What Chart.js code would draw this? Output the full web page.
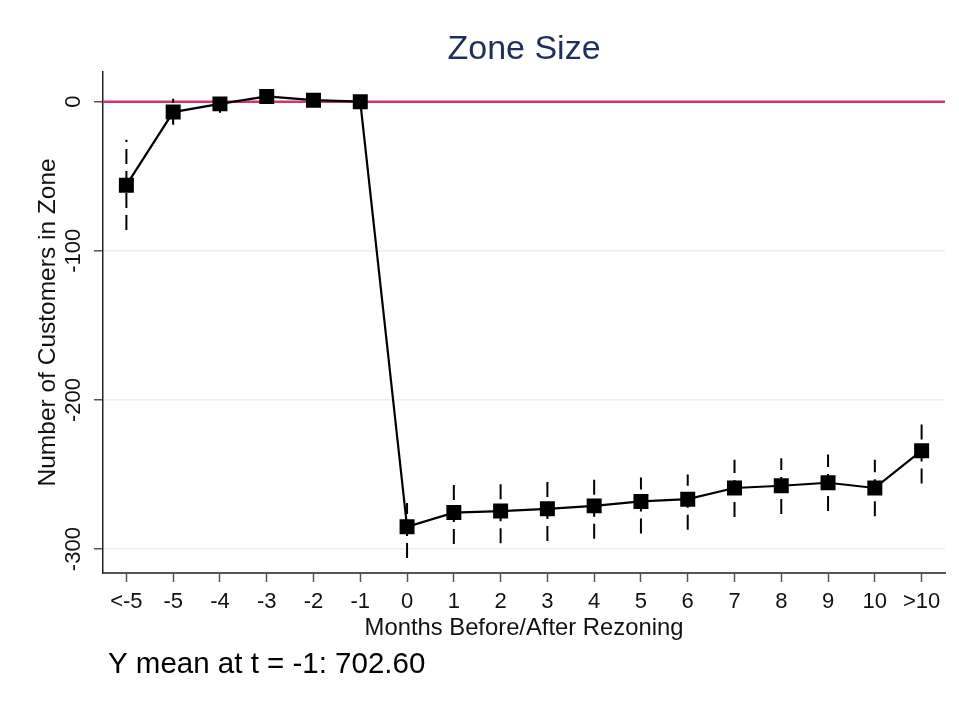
<!DOCTYPE html>
<html>
<head>
<meta charset="utf-8">
<script src="https://cdn.jsdelivr.net/npm/chart.js@4.4.1/dist/chart.umd.min.js"></script>
<style>
  html, body { margin: 0; padding: 0; background: #ffffff; }
  #wrap { width: 959px; height: 702px; position: relative; }
</style>
</head>
<body>
<div id="wrap"><canvas id="c" width="959" height="702"></canvas></div>
<script>
// ---- data ----
const categories = ['<-5','-5','-4','-3','-2','-1','0','1','2','3','4','5','6','7','8','9','10','>10'];
const coef  = [-56, -7, -1.5, 3.5, 1, 0, -285, -275.5, -274.5, -273, -271, -268, -266.5, -259, -257.5, -255.5, -259, -234];
const ciLow = [-86, -15.5, -7.5, 0.5, -2, null, -306, -296.5, -296, -294.5, -293, -289.5, -287, -278.5, -276.5, -274.5, -278, -256];
const ciHigh= [-25.5, 2, 3, 7, 4, null, -269, -253.5, -253, -252, -250, -252, -250, -240, -239, -236.5, -240, -213.5];
const yTicks = [0, -100, -200, -300];
const yTickLabels = ['0', '-100', '-200', '-300'];
const titleText = 'Zone Size';
const xTitle = 'Months Before/After Rezoning';
const yTitle = 'Number of Customers in Zone';
const noteText = 'Y mean at t = -1: 702.60';
const refLine = 0;

const FONT = '"Liberation Sans", Arial, Helvetica, sans-serif';

const refLinePlugin = {
  id: 'refLine',
  beforeDatasetsDraw(chart) {
    const {ctx, chartArea, scales} = chart;
    const y = scales.y.getPixelForValue(refLine);
    ctx.save();
    ctx.strokeStyle = '#d43562';
    ctx.lineWidth = 2.5;
    ctx.beginPath();
    ctx.moveTo(chartArea.left, y);
    ctx.lineTo(chartArea.right, y);
    ctx.stroke();
    ctx.restore();
  }
};

const errorBarPlugin = {
  id: 'errorBars',
  beforeDatasetsDraw(chart) {
    const {ctx, scales} = chart;
    ctx.save();
    ctx.strokeStyle = '#000';
    ctx.lineWidth = 2;
    ctx.setLineDash([15, 7]);
    for (let i = 0; i < categories.length; i++) {
      if (ciLow[i] === null || ciHigh[i] === null) continue;
      const x = scales.x.getPixelForValue(i);
      const y0 = scales.y.getPixelForValue(ciLow[i]);
      const y1 = scales.y.getPixelForValue(ciHigh[i]);
      ctx.beginPath();
      ctx.moveTo(x, y0);
      ctx.lineTo(x, y1);
      ctx.stroke();
    }
    ctx.restore();
  }
};

const notePlugin = {
  id: 'note',
  afterDraw(chart) {
    const {ctx, chartArea} = chart;
    ctx.save();
    ctx.font = '29.5px ' + FONT;
    ctx.fillStyle = '#000';
    ctx.textAlign = 'left';
    ctx.textBaseline = 'alphabetic';
    ctx.fillText(noteText, chartArea.left + 5, chartArea.bottom + 100);
    ctx.restore();
  }
};

new Chart(document.getElementById('c'), {
  type: 'line',
  data: {
    labels: categories,
    datasets: [{
      data: coef,
      borderColor: '#000',
      borderWidth: 2.2,
      pointStyle: 'rect',
      pointRadius: 10.6,
      pointBackgroundColor: '#000',
      pointBorderColor: '#000',
      pointBorderWidth: 0,
      tension: 0,
      fill: false
    }]
  },
  options: {
    responsive: false,
    animation: false,
    devicePixelRatio: 1,
    layout: { padding: { left: 0, right: 14, top: 0, bottom: 59 } },
    plugins: {
      legend: { display: false },
      tooltip: { enabled: false },
      title: {
        display: true,
        text: titleText,
        fullSize: false,
        color: '#1e2f5e',
        font: { family: FONT, size: 34, weight: 'normal', lineHeight: 1.2 },
        padding: { top: 29, bottom: 2 }
      }
    },
    scales: {
      x: {
        type: 'category',
        offset: true,
        grid: { offset: false, drawOnChartArea: false, drawTicks: true, tickLength: 9, tickColor: '#555', tickWidth: 1.5 },
        border: { display: true, color: '#555', width: 2 },
        ticks: { color: '#111', font: { family: FONT, size: 22 }, padding: 7, autoSkip: false, maxRotation: 0, minRotation: 0 },
        title: { display: true, text: xTitle, color: '#111', font: { family: FONT, size: 23.8, lineHeight: 1.2 }, padding: { top: 0, bottom: 0 } },
        afterFit(s) { s.height = 70; }
      },
      y: {
        min: -316,
        max: 20,
        grid: { color: '#e8f0f3', lineWidth: 1.5, drawTicks: true, tickLength: 9, tickColor: '#555', tickWidth: 1.5 },
        border: { display: true, color: '#222', width: 1.5 },
        afterBuildTicks(s) { s.ticks = yTicks.map(v => ({ value: v })); },
        ticks: {
          color: '#111',
          font: { family: FONT, size: 22 },
          padding: -2,
          minRotation: 90,
          maxRotation: 90,
          crossAlign: 'center',
          autoSkip: false,
          callback: (v) => yTickLabels[yTicks.indexOf(v)]
        },
        title: { display: true, text: yTitle, color: '#111', font: { family: FONT, size: 24.5, lineHeight: 1.2 }, padding: { top: 34, bottom: 0 } },
        afterFit(s) { s.width = 103; }
      }
    }
  },
  plugins: [refLinePlugin, errorBarPlugin, notePlugin]
});
</script>
</body>
</html>
